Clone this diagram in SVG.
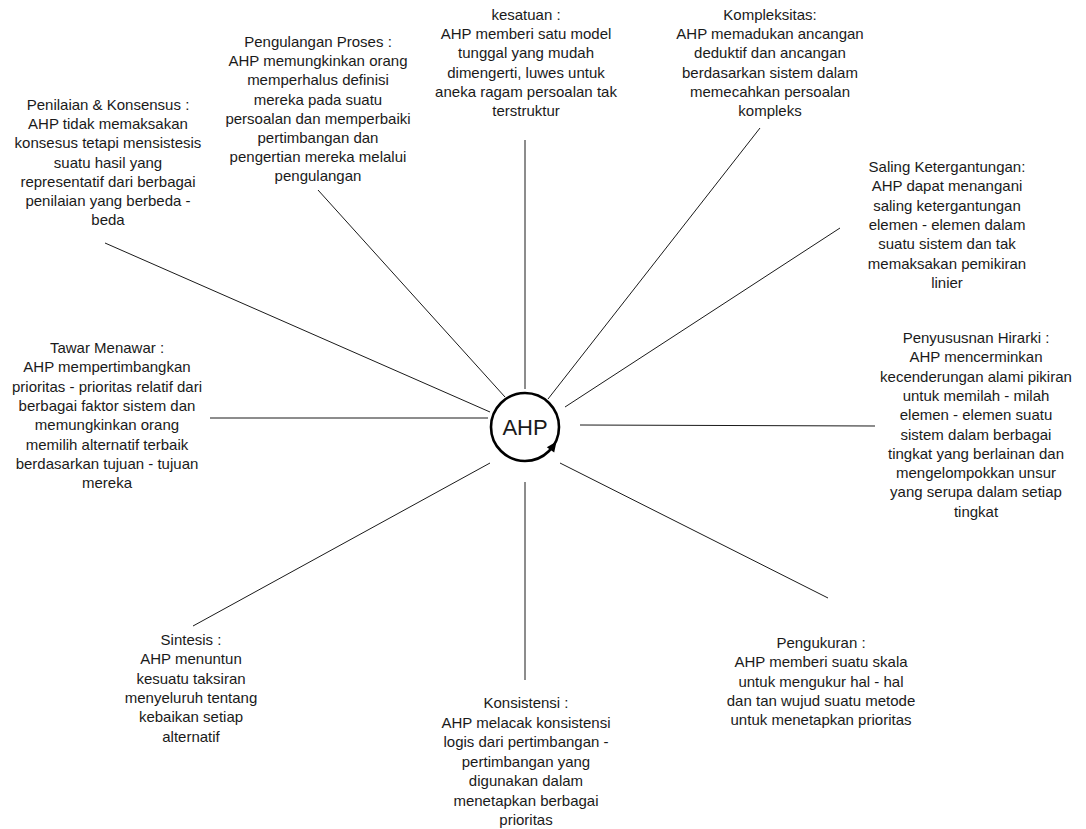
<svg xmlns="http://www.w3.org/2000/svg" width="1086" height="829" viewBox="0 0 1086 829">
<style>
  .t { font-family: "Liberation Sans", Arial, sans-serif; font-size: 15px; fill: #1a1a1a; text-anchor: middle; }
  .c { stroke: #1a1a1a; stroke-width: 1; fill: none; }
</style>
<rect width="1086" height="829" fill="#ffffff"/>
<g id="connectors">
  <line class="c" x1="490" y1="412" x2="105" y2="243"/>
  <line class="c" x1="505" y1="397" x2="318" y2="190"/>
  <line class="c" x1="525" y1="389" x2="525" y2="140"/>
  <line class="c" x1="548" y1="399" x2="760" y2="128"/>
  <line class="c" x1="565" y1="407" x2="840" y2="228"/>
  <line class="c" x1="580" y1="425" x2="875" y2="426"/>
  <line class="c" x1="560" y1="463" x2="828" y2="598"/>
  <line class="c" x1="525" y1="482" x2="525" y2="680"/>
  <line class="c" x1="490" y1="463" x2="193" y2="626"/>
  <line class="c" x1="488" y1="418" x2="210" y2="418"/>
</g>
<g id="ahp">
  <circle cx="525" cy="427" r="34" fill="#ffffff" stroke="#000000" stroke-width="2.6"/>
  <polygon points="556.5,441.5 554.2,452.5 546.8,447.3" fill="#000000"/>
  <text class="t" x="525" y="435" style="font-size:22px">AHP</text>
</g>
<g id="penilaian">
  <text class="t" x="108" y="110"><tspan x="108">Penilaian &amp; Konsensus :</tspan><tspan x="108" dy="19.2">AHP tidak memaksakan</tspan><tspan x="108" dy="19.2">konsesus tetapi mensistesis</tspan><tspan x="108" dy="19.2">suatu hasil yang</tspan><tspan x="108" dy="19.2">representatif dari berbagai</tspan><tspan x="108" dy="19.2">penilaian yang berbeda -</tspan><tspan x="108" dy="19.2">beda</tspan></text>
</g>
<g id="pengulangan">
  <text class="t" x="318" y="47"><tspan x="318">Pengulangan Proses :</tspan><tspan x="318" dy="19.2">AHP memungkinkan orang</tspan><tspan x="318" dy="19.2">memperhalus definisi</tspan><tspan x="318" dy="19.2">mereka pada suatu</tspan><tspan x="318" dy="19.2">persoalan dan memperbaiki</tspan><tspan x="318" dy="19.2">pertimbangan dan</tspan><tspan x="318" dy="19.2">pengertian mereka melalui</tspan><tspan x="318" dy="19.2">pengulangan</tspan></text>
</g>
<g id="kesatuan">
  <text class="t" x="526" y="20"><tspan x="526">kesatuan :</tspan><tspan x="526" dy="19.2">AHP memberi satu model</tspan><tspan x="526" dy="19.2">tunggal yang mudah</tspan><tspan x="526" dy="19.2">dimengerti, luwes untuk</tspan><tspan x="526" dy="19.2">aneka ragam persoalan tak</tspan><tspan x="526" dy="19.2">terstruktur</tspan></text>
</g>
<g id="kompleksitas">
  <text class="t" x="770" y="20"><tspan x="770">Kompleksitas:</tspan><tspan x="770" dy="19.2">AHP memadukan ancangan</tspan><tspan x="770" dy="19.2">deduktif dan ancangan</tspan><tspan x="770" dy="19.2">berdasarkan sistem dalam</tspan><tspan x="770" dy="19.2">memecahkan persoalan</tspan><tspan x="770" dy="19.2">kompleks</tspan></text>
</g>
<g id="saling">
  <text class="t" x="947" y="172"><tspan x="947">Saling Ketergantungan:</tspan><tspan x="947" dy="19.3">AHP dapat menangani</tspan><tspan x="947" dy="19.3">saling ketergantungan</tspan><tspan x="947" dy="19.3">elemen - elemen dalam</tspan><tspan x="947" dy="19.3">suatu sistem dan tak</tspan><tspan x="947" dy="19.3">memaksakan pemikiran</tspan><tspan x="947" dy="19.3">linier</tspan></text>
</g>
<g id="penyususnan">
  <text class="t" x="976" y="343"><tspan x="976">Penyususnan Hirarki :</tspan><tspan x="976" dy="19.3">AHP mencerminkan</tspan><tspan x="976" dy="19.3">kecenderungan alami pikiran</tspan><tspan x="976" dy="19.3">untuk memilah - milah</tspan><tspan x="976" dy="19.3">elemen - elemen suatu</tspan><tspan x="976" dy="19.3">sistem dalam berbagai</tspan><tspan x="976" dy="19.3">tingkat yang berlainan dan</tspan><tspan x="976" dy="19.3">mengelompokkan unsur</tspan><tspan x="976" dy="19.3">yang serupa dalam setiap</tspan><tspan x="976" dy="19.3">tingkat</tspan></text>
</g>
<g id="tawar">
  <text class="t" x="107" y="353"><tspan x="107">Tawar Menawar :</tspan><tspan x="107" dy="19.3">AHP mempertimbangkan</tspan><tspan x="107" dy="19.3">prioritas - prioritas relatif dari</tspan><tspan x="107" dy="19.3">berbagai faktor sistem dan</tspan><tspan x="107" dy="19.3">memungkinkan orang</tspan><tspan x="107" dy="19.3">memilih alternatif terbaik</tspan><tspan x="107" dy="19.3">berdasarkan tujuan - tujuan</tspan><tspan x="107" dy="19.3">mereka</tspan></text>
</g>
<g id="sintesis">
  <text class="t" x="191" y="645"><tspan x="191">Sintesis :</tspan><tspan x="191" dy="19.3">AHP menuntun</tspan><tspan x="191" dy="19.3">kesuatu taksiran</tspan><tspan x="191" dy="19.3">menyeluruh tentang</tspan><tspan x="191" dy="19.3">kebaikan setiap</tspan><tspan x="191" dy="19.3">alternatif</tspan></text>
</g>
<g id="konsistensi">
  <text class="t" x="526" y="708"><tspan x="526">Konsistensi :</tspan><tspan x="526" dy="19.5">AHP melacak konsistensi</tspan><tspan x="526" dy="19.5">logis dari pertimbangan -</tspan><tspan x="526" dy="19.5">pertimbangan yang</tspan><tspan x="526" dy="19.5">digunakan dalam</tspan><tspan x="526" dy="19.5">menetapkan berbagai</tspan><tspan x="526" dy="19.5">prioritas</tspan></text>
</g>
<g id="pengukuran">
  <text class="t" x="821" y="648"><tspan x="821">Pengukuran :</tspan><tspan x="821" dy="19.3">AHP memberi suatu skala</tspan><tspan x="821" dy="19.3">untuk mengukur hal - hal</tspan><tspan x="821" dy="19.3">dan tan wujud suatu metode</tspan><tspan x="821" dy="19.3">untuk menetapkan prioritas</tspan></text>
</g>
</svg>
